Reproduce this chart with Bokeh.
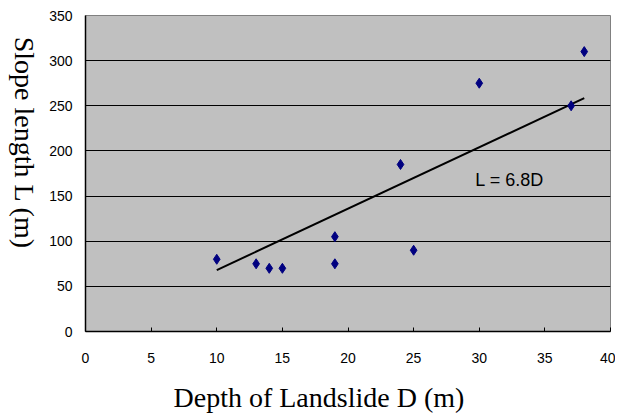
import math
from bokeh.plotting import figure
from bokeh.layouts import row, column
from bokeh.models import Range1d, FixedTicker, Label
from bokeh.embed import file_html
from bokeh.resources import INLINE

depth = [10, 13, 14, 15, 19, 19, 24, 25, 30, 37, 38]
slope_len = [80, 75, 70, 70, 105, 75, 185, 90, 275, 250, 310]
fit_x = [10, 38]
fit_coef = 6.8
fit_y = [fit_coef * v for v in fit_x]
x_ticks = [0, 5, 10, 15, 20, 25, 30, 35, 40]
y_ticks = [0, 50, 100, 150, 200, 250, 300, 350]
x_title = "Depth of Landslide D (m)"
y_title = "Slope length L (m)"
eq_text = "L = 6.8D"

SIDE_W = 45
MAIN_W = 570
MAIN_H = 372
BOTTOM_H = 44


def blank(width, height):
    f = figure(width=width, height=height, output_backend="svg", toolbar_location=None,
               title=None,
               x_range=Range1d(0, width), y_range=Range1d(0, height),
               x_axis_location=None, y_axis_location=None,
               min_border=0, min_border_left=0, min_border_right=0,
               min_border_top=0, min_border_bottom=0)
    f.outline_line_color = None
    f.background_fill_color = "white"
    f.border_fill_color = "white"
    f.grid.visible = False
    return f


p = figure(width=MAIN_W, height=MAIN_H, output_backend="svg", toolbar_location=None,
           x_range=Range1d(0, 40), y_range=Range1d(0, 350),
           min_border_left=40, min_border_right=5, min_border_top=15, min_border_bottom=41)
p.background_fill_color = "#c0c0c0"
p.border_fill_color = "white"
p.outline_line_color = "#808080"
p.outline_line_width = 1

p.xgrid.grid_line_color = None
p.ygrid.grid_line_color = "black"
p.ygrid.grid_line_width = 1.2

p.xaxis.ticker = FixedTicker(ticks=x_ticks)
p.yaxis.ticker = FixedTicker(ticks=y_ticks)
p.xaxis.minor_tick_line_color = None
p.yaxis.minor_tick_line_color = None
p.xaxis.major_tick_in = 4
p.xaxis.major_tick_out = 0
p.yaxis.major_tick_in = 0
p.yaxis.major_tick_out = 0
for ax in (p.xaxis, p.yaxis):
    ax.axis_line_color = "black"
    ax.axis_line_width = 1.5
    ax.major_tick_line_color = "black"
    ax.major_label_text_font = "Liberation Sans"
    ax.major_label_text_font_size = "14px"
    ax.major_label_text_color = "black"
p.xaxis.major_label_standoff = 21
p.yaxis.major_label_standoff = 13

p.line(fit_x, fit_y, line_color="black", line_width=2)
p.scatter(depth, slope_len, marker="diamond", size=10, fill_color="#000080", line_color="#000080")

p.add_layout(Label(x=29.7, y=167.6, text=eq_text, text_font="Liberation Sans",
                   text_font_size="18px", text_baseline="middle", text_color="black"))

# y title, reading top-to-bottom
side = blank(SIDE_W, MAIN_H)
side.add_layout(Label(x=24, y=MAIN_H - 150, text=y_title, angle=-math.pi / 2,
                      text_align="center", text_baseline="middle",
                      text_font="Liberation Serif", text_font_size="28px",
                      text_color="black"))

# x title
bottom = blank(SIDE_W + MAIN_W, BOTTOM_H)
bottom.add_layout(Label(x=173, y=19, text=x_title, text_align="left",
                        text_baseline="alphabetic",
                        text_font="Liberation Serif", text_font_size="28px",
                        text_color="black"))

layout = column(row(side, p, spacing=0), bottom, spacing=0)

open("out.html", "w").write(file_html(layout, INLINE))
